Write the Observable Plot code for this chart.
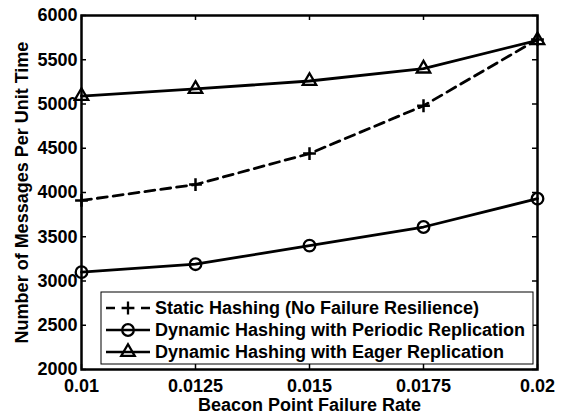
<!DOCTYPE html>
<html>
<head>
<meta charset="utf-8">
<script src="https://cdn.jsdelivr.net/npm/d3@7"></script>
<script src="https://cdn.jsdelivr.net/npm/@observablehq/plot@0.6"></script>
<style>
  html, body { margin: 0; padding: 0; background: #fff; }
</style>
</head>
<body>
<div id="chart"></div>
<script>
// Beacon point failure rates (x) and message rates for each hashing scheme
const failureRates = [0.01, 0.0125, 0.015, 0.0175, 0.02];
const staticHashing = [3910, 4090, 4440, 4980, 5730];
const periodicReplication = [3100, 3190, 3400, 3610, 3930];
const eagerReplication = [5090, 5170, 5260, 5400, 5720];

const seriesNames = [
  "Static Hashing (No Failure Resilience)",
  "Dynamic Hashing with Periodic Replication",
  "Dynamic Hashing with Eager Replication"
];
const seriesSymbols = ["plus", "circle", "triangle"];

const xTicks = [0.01, 0.0125, 0.015, 0.0175, 0.02];
const xTickLabels = ["0.01", "0.0125", "0.015", "0.0175", "0.02"];
const yTicks = [2000, 2500, 3000, 3500, 4000, 4500, 5000, 5500, 6000];

const xLabel = "Beacon Point Failure Rate";
const yLabel = "Number of Messages Per Unit Time";

const W = 576, H = 413;
const mL = 81, mR = 39, mT = 15, mB = 44;
const innerW = W - mL - mR;
const innerH = H - mT - mB;
const tickLen = 5;
const font = '"Liberation Sans", Arial, Helvetica, sans-serif';

const rows = failureRates.map((x, i) => ({
  x,
  s: staticHashing[i],
  p: periodicReplication[i],
  e: eagerReplication[i]
}));

const symbolR = {plus: 4.2, circle: 5.8, triangle: 5};

const plot = Plot.plot({
  width: W,
  height: H,
  marginLeft: mL,
  marginRight: mR,
  marginTop: mT,
  marginBottom: mB,
  x: {domain: [0.01, 0.02], axis: null},
  y: {domain: [2000, 6000], axis: null},
  style: {
    fontFamily: font,
    fontSize: "18px",
    fontWeight: "bold",
    background: "white",
    color: "black"
  },
  marks: [
    // inward tick marks on all four sides
    Plot.ruleX(xTicks, {x: d => d, insetTop: innerH - tickLen, stroke: "black", strokeWidth: 1.5}),
    Plot.ruleX(xTicks, {x: d => d, insetBottom: innerH - tickLen, stroke: "black", strokeWidth: 1.5}),
    Plot.ruleY(yTicks, {y: d => d, insetRight: innerW - tickLen, stroke: "black", strokeWidth: 1.5}),
    Plot.ruleY(yTicks, {y: d => d, insetLeft: innerW - tickLen, stroke: "black", strokeWidth: 1.5}),

    // series lines
    Plot.line(rows, {x: "x", y: "s", stroke: "black", strokeWidth: 2.8, strokeDasharray: "10,6"}),
    Plot.line(rows, {x: "x", y: "p", stroke: "black", strokeWidth: 2.8}),
    Plot.line(rows, {x: "x", y: "e", stroke: "black", strokeWidth: 2.8}),

    // series markers
    Plot.dot(rows, {x: "x", y: "s", symbol: "plus", r: symbolR.plus, stroke: "black", fill: "none", strokeWidth: 2.5}),
    Plot.dot(rows, {x: "x", y: "p", symbol: "circle", r: symbolR.circle, stroke: "black", fill: "none", strokeWidth: 2.3}),
    Plot.dot(rows, {x: "x", y: "e", symbol: "triangle", r: symbolR.triangle, stroke: "black", fill: "none", strokeWidth: 2.3}),

    Plot.frame({stroke: "black", strokeWidth: 2.5}),

    // tick labels
    Plot.text(xTicks, {x: d => d, text: (d, i) => xTickLabels[i], frameAnchor: "bottom", dy: 22, lineAnchor: "bottom", textAnchor: "middle", fill: "black"}),
    Plot.text(yTicks, {y: d => d, text: d => String(d), frameAnchor: "left", dx: -4, textAnchor: "end", fill: "black"}),

    // axis titles
    Plot.text([xLabel], {frameAnchor: "bottom", dy: 41, lineAnchor: "bottom", textAnchor: "middle", fill: "black"}),
    Plot.text([yLabel], {frameAnchor: "left", dx: -54, rotate: -90, lineAnchor: "bottom", textAnchor: "middle", fill: "black"})
  ]
});

// legend box inside the plot area
const svg = d3.select(plot);
const legend = svg.append("g").attr("class", "legend").attr("text-anchor", "start");
const box = {x: 101, y: 292, w: 432, h: 72};
legend.append("rect")
  .attr("x", box.x).attr("y", box.y)
  .attr("width", box.w).attr("height", box.h)
  .attr("fill", "white").attr("stroke", "black").attr("stroke-width", 1);

const rowY = [308, 330, 352];
const symbolMap = {plus: d3.symbolPlus, circle: d3.symbolCircle, triangle: d3.symbolTriangle};
seriesNames.forEach((name, i) => {
  const y = rowY[i];
  const line = legend.append("line")
    .attr("x1", 106).attr("x2", 150).attr("y1", y).attr("y2", y)
    .attr("stroke", "black").attr("stroke-width", 2.3);
  if (i === 0) line.attr("stroke-dasharray", "9,26");
  const sym = seriesSymbols[i];
  const r = symbolR[sym];
  legend.append("path")
    .attr("d", d3.symbol(symbolMap[sym], r * r * Math.PI)())
    .attr("transform", `translate(128,${y})`)
    .attr("fill", "none").attr("stroke", "black").attr("stroke-width", 2.3);
  legend.append("text")
    .attr("x", 155).attr("y", y).attr("dy", "0.35em")
    .attr("text-anchor", "start")
    .attr("fill", "black")
    .text(name);
});

document.getElementById("chart").appendChild(plot);
</script>
</body>
</html>
